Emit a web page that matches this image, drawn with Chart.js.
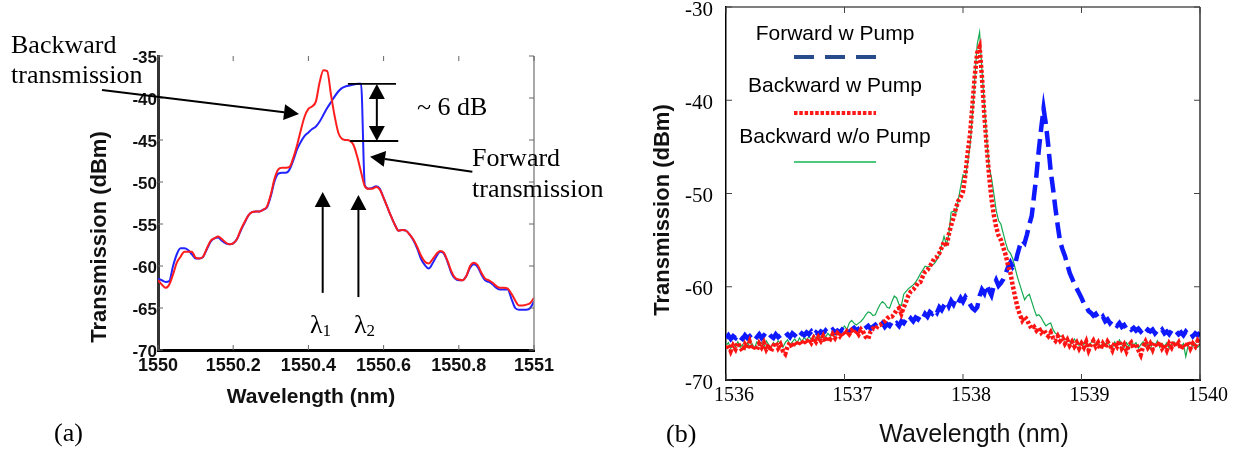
<!DOCTYPE html>
<html>
<head>
<meta charset="utf-8">
<script src="https://cdn.jsdelivr.net/npm/chart.js@4.4.1/dist/chart.umd.min.js"></script>
<style>
  html, body { margin: 0; padding: 0; background: #fff; }
  #wrap { position: relative; width: 1240px; height: 452px; overflow: hidden; }
  canvas { position: absolute; top: 0; }
  #chartA { left: 0; }
  #chartB { left: 620px; }
</style>
</head>
<body>
<div id="wrap">
  <canvas id="chartA" width="620" height="452"></canvas>
  <canvas id="chartB" width="620" height="452"></canvas>
</div>
<script>
// ---------- panel (a): 1550 - 1551 nm, sampled every 0.01 nm ----------
const aStart = 1550, aStep = 0.01;
const aBackward = [
  -61.7,-62.2,-62.6,-62.2,-61.0,-59.6,-58.9,-58.3,-58.3,-58.3,
  -59.0,-59.1,-58.9,-57.9,-57.0,-56.7,-56.5,-56.8,-57.2,-57.4,
  -57.3,-56.8,-55.7,-54.8,-54.0,-53.6,-53.5,-53.5,-53.3,-52.9,
  -51.5,-49.6,-48.5,-48.3,-48.3,-48.2,-47.1,-45.6,-43.8,-42.2,
  -41.3,-41.0,-40.4,-38.1,-36.7,-36.8,-39.6,-42.2,-44.2,-44.9,
  -45.0,-45.1,-45.6,-47.0,-48.8,-50.5,-50.8,-50.8,-50.6,-50.9,
  -51.9,-53.0,-54.1,-55.1,-55.8,-55.7,-55.8,-56.3,-56.9,-57.8,
  -58.8,-59.5,-59.7,-59.2,-58.6,-58.2,-58.4,-59.4,-60.6,-61.4,
  -61.6,-61.7,-61.2,-60.0,-59.6,-59.9,-60.8,-61.5,-61.7,-62.0,
  -62.4,-62.6,-62.6,-62.7,-63.3,-64.1,-64.7,-64.7,-64.6,-64.4,
  -63.8
];
const aForward = [
  -61.5,-61.7,-61.9,-61.8,-60.0,-58.6,-57.9,-57.9,-58.1,-58.6,
  -59.1,-59.1,-58.9,-58.0,-57.1,-56.7,-56.6,-57.0,-57.3,-57.4,
  -57.3,-56.8,-55.8,-54.9,-54.0,-53.6,-53.5,-53.5,-53.3,-53.0,
  -51.7,-49.9,-49.0,-48.9,-48.9,-48.5,-47.4,-46.1,-45.2,-44.5,
  -44.1,-43.7,-43.4,-42.8,-42.0,-41.2,-40.5,-39.8,-39.2,-38.8,
  -38.6,-38.5,-38.4,-38.3,-38.3,-50.4,-50.8,-50.7,-50.5,-50.8,
  -51.9,-53.0,-54.1,-55.1,-55.8,-55.7,-55.8,-56.3,-57.0,-58.0,
  -59.2,-59.9,-60.3,-59.7,-58.9,-58.3,-58.5,-59.5,-60.8,-61.5,
  -61.7,-61.7,-61.2,-60.2,-59.8,-60.1,-61.0,-61.7,-61.9,-62.2,
  -62.6,-62.8,-62.8,-62.8,-63.9,-65.0,-65.2,-65.2,-65.2,-65.0,
  -64.2
];
const aXLabels = ['1550', '1550.2', '1550.4', '1550.6', '1550.8', '1551'];
const aYLabels = ['-70', '-65', '-60', '-55', '-50', '-45', '-40', '-35'];

// ---------- panel (b): 1536 - 1540 nm, sampled every 0.02 nm ----------
const bStart = 1536, bStep = 0.02;
const bForwardPump = [
  -65.5,-65.2,-65.6,-65.3,-65.5,-65.1,-65.4,-65.6,-65.2,-65.5,
  -65.3,-65.6,-65.2,-65.4,-65.1,-65.5,-65.2,-65.4,-65.0,-65.3,
  -65.5,-65.1,-65.4,-65.2,-65.0,-65.3,-65.1,-65.4,-65.0,-65.2,
  -64.9,-65.3,-65.0,-65.2,-64.9,-65.1,-64.8,-65.2,-64.9,-65.1,
  -64.8,-65.0,-64.7,-65.0,-64.8,-64.6,-64.9,-64.7,-64.9,-64.6,
  -64.8,-64.5,-64.8,-64.6,-64.4,-64.7,-64.5,-64.3,-64.6,-64.4,
  -64.2,-64.5,-64.3,-64.1,-64.4,-64.2,-63.9,-64.3,-64.0,-64.2,
  -63.8,-64.1,-63.9,-64.2,-63.7,-63.9,-63.5,-63.8,-63.4,-63.7,
  -63.3,-63.5,-63.1,-63.4,-62.9,-63.2,-62.7,-62.9,-62.5,-62.8,
  -62.2,-62.5,-62.0,-61.6,-62.1,-61.5,-61.9,-61.3,-61.7,-61.2,
  -61.6,-61.1,-61.5,-61.9,-62.3,-62.5,-62.2,-61.0,-60.3,-60.7,
  -59.8,-60.4,-60.9,-59.9,-59.3,-59.9,-59.6,-59.2,-58.6,-57.9,
  -57.4,-57.9,-57.6,-56.5,-55.6,-55.0,-55.3,-54.4,-53.3,-52.4,
  -50.2,-48.0,-45.3,-43.0,-40.9,-42.6,-44.9,-47.6,-49.5,-51.6,
  -53.5,-55.2,-56.0,-56.7,-57.6,-58.5,-59.1,-59.7,-60.2,-60.7,
  -61.2,-61.8,-62.1,-62.6,-62.8,-63.1,-62.9,-63.3,-63.5,-63.2,
  -63.7,-63.5,-63.9,-63.6,-64.0,-64.2,-63.9,-64.3,-64.1,-64.5,
  -64.3,-64.6,-64.4,-64.7,-64.5,-64.8,-64.5,-64.9,-64.6,-64.8,
  -64.6,-65.0,-64.7,-64.9,-64.6,-65.0,-64.8,-65.1,-64.7,-65.0,
  -64.8,-65.1,-64.9,-65.2,-64.8,-65.1,-64.9,-65.3,-65.0,-65.2,
  -64.9
];
const bBackwardPump = [
  -66.6,-66.2,-66.9,-66.3,-66.7,-66.0,-66.5,-66.9,-66.2,-66.6,
  -65.9,-66.7,-66.3,-66.8,-66.1,-66.5,-66.0,-66.7,-66.2,-66.9,
  -66.3,-66.0,-66.6,-66.2,-66.9,-67.2,-66.4,-66.0,-66.5,-65.9,
  -66.3,-65.8,-66.2,-65.7,-66.1,-65.6,-66.0,-65.5,-65.9,-65.4,
  -65.8,-65.3,-65.9,-65.4,-65.6,-65.1,-65.5,-65.0,-65.3,-64.9,
  -65.2,-64.8,-65.1,-64.7,-65.0,-64.7,-65.1,-64.6,-64.9,-65.4,
  -65.6,-64.8,-64.5,-64.6,-64.2,-64.1,-63.9,-63.7,-63.4,-63.2,
  -63.2,-62.9,-62.5,-62.3,-62.9,-62.2,-61.6,-60.9,-60.5,-60.3,
  -60.0,-59.6,-59.5,-58.9,-58.4,-58.2,-57.8,-57.4,-56.9,-56.8,
  -56.4,-55.8,-55.2,-55.7,-54.4,-53.4,-52.6,-51.6,-50.8,-50.4,
  -49.8,-48.0,-45.6,-43.6,-40.5,-37.3,-34.9,-34.3,-37.5,-41.5,
  -45.0,-48.0,-50.5,-52.3,-53.6,-54.5,-55.0,-55.8,-56.6,-57.7,
  -58.5,-59.9,-61.1,-62.2,-63.0,-63.6,-63.2,-63.5,-64.1,-64.5,
  -64.3,-64.7,-64.4,-64.9,-64.6,-65.0,-65.3,-64.9,-65.5,-65.8,
  -65.3,-65.8,-65.5,-66.1,-65.7,-66.3,-65.9,-66.4,-66.0,-66.6,
  -66.1,-66.5,-65.9,-66.8,-66.2,-65.8,-66.4,-66.0,-66.7,-66.1,
  -66.5,-65.9,-66.3,-66.8,-66.0,-66.4,-65.8,-66.6,-66.2,-66.9,
  -66.3,-66.0,-66.6,-66.1,-66.8,-67.3,-66.4,-65.9,-66.5,-66.1,
  -66.7,-66.0,-66.4,-65.9,-66.6,-66.2,-66.8,-66.1,-66.5,-65.9,
  -66.4,-66.0,-66.7,-66.2,-66.5,-65.9,-66.6,-66.1,-66.4,-65.8,
  -66.2
];
const bBackwardNoPump = [
  -66.3,-66.0,-66.6,-66.1,-66.4,-65.9,-66.5,-66.2,-66.7,-66.0,
  -66.4,-66.1,-66.6,-65.9,-66.3,-66.0,-66.5,-65.8,-66.2,-66.6,
  -66.0,-66.3,-65.8,-66.1,-66.5,-66.0,-65.7,-66.2,-65.9,-65.6,
  -66.0,-65.5,-65.9,-65.4,-65.8,-65.3,-65.7,-65.2,-65.6,-65.3,
  -65.5,-65.1,-65.4,-65.0,-65.3,-64.9,-65.2,-64.8,-65.0,-64.5,
  -64.2,-64.6,-63.9,-63.6,-63.9,-64.1,-63.9,-63.7,-63.4,-63.0,
  -62.7,-62.8,-63.1,-63.0,-62.4,-61.9,-61.6,-61.8,-62.2,-62.3,
  -61.6,-61.0,-61.2,-61.9,-62.0,-60.8,-60.5,-60.2,-60.0,-59.8,
  -59.5,-59.1,-58.6,-58.2,-57.8,-57.9,-57.8,-57.7,-57.5,-57.1,
  -56.6,-55.6,-54.6,-55.5,-54.4,-52.0,-51.9,-52.1,-50.7,-49.3,
  -48.0,-48.2,-46.6,-44.8,-41.3,-37.6,-34.0,-32.7,-36.8,-40.6,
  -44.3,-47.2,-48.3,-50.0,-51.8,-52.9,-53.3,-54.3,-55.3,-56.1,
  -56.4,-57.0,-58.0,-59.0,-59.8,-60.6,-61.4,-61.0,-60.8,-61.6,
  -62.4,-63.1,-63.0,-63.3,-63.8,-64.2,-64.0,-63.9,-64.6,-65.0,
  -65.1,-65.3,-65.3,-65.7,-65.5,-65.9,-66.1,-65.6,-66.0,-66.3,
  -65.8,-66.2,-65.7,-66.4,-66.0,-65.6,-66.3,-65.9,-66.5,-66.0,
  -66.2,-65.8,-66.4,-66.6,-65.9,-66.3,-65.7,-66.2,-66.5,-66.0,
  -66.4,-65.8,-66.3,-66.0,-66.6,-66.2,-65.9,-66.4,-66.1,-66.7,
  -66.0,-66.3,-65.8,-66.5,-66.1,-66.4,-66.0,-66.6,-66.2,-65.9,
  -66.3,-66.0,-66.5,-66.1,-67.5,-66.3,-66.0,-66.4,-66.1,-66.5,
  -66.2
];
const bXLabels = ['1536', '1537', '1538', '1539', '1540'];
const bYLabels = ['-70', '-60', '-50', '-40', '-30'];

// annotation anchors of panel (a), in data units (nm, dBm)
const aNotes = {
  backArrow: [1549.851, -39.05, 1550.375, -41.9],
  fwdArrow: [1550.836, -48.77, 1550.564, -46.99],
  lambda1: [1550.438, -63.2, -51.2],
  lambda2: [1550.533, -63.7, -51.55],
  dbTop: [1550.505, 1550.633, -38.33],
  dbBottom: [1550.511, 1550.639, -45.12],
  dbArrowX: 1550.582
};

const SANS = '"Liberation Sans", Arial, sans-serif';
const SERIF = '"Liberation Serif", "Times New Roman", serif';

function toPoints(start, step, values) {
  return values.map((v, i) => ({ x: start + i * step, y: v }));
}

function seg(ctx, x1, y1, x2, y2) {
  ctx.beginPath();
  ctx.moveTo(x1, y1);
  ctx.lineTo(x2, y2);
  ctx.stroke();
}

// line with a filled head at (x2, y2)
function arrow(ctx, x1, y1, x2, y2, head, half, headOnly) {
  const ang = Math.atan2(y2 - y1, x2 - x1);
  const bx = x2 - head * Math.cos(ang), by = y2 - head * Math.sin(ang);
  if (!headOnly) seg(ctx, x1, y1, bx, by);
  ctx.beginPath();
  ctx.moveTo(x2, y2);
  ctx.lineTo(bx + half * Math.sin(ang), by - half * Math.cos(ang));
  ctx.lineTo(bx - half * Math.sin(ang), by + half * Math.cos(ang));
  ctx.closePath();
  ctx.fill();
}

function vText(ctx, text, cx, cy, font) {
  ctx.save();
  ctx.translate(cx, cy);
  ctx.rotate(-Math.PI / 2);
  ctx.font = font;
  ctx.textAlign = 'center';
  ctx.textBaseline = 'middle';
  ctx.fillText(text, 0, 0);
  ctx.restore();
}

function lambda(ctx, sub, left, base) {
  ctx.font = '26px ' + SERIF;
  ctx.textAlign = 'left';
  ctx.fillText('\u03bb', left, base);
  const w = ctx.measureText('\u03bb').width;
  ctx.font = '17px ' + SERIF;
  ctx.fillText(sub, left + w, base + 3);
}

const panelA = {
  id: 'panelA',
  afterDraw(chart) {
    const { ctx, chartArea: ca, scales: { x, y } } = chart;
    ctx.save();
    // right border, no top border
    ctx.strokeStyle = '#8c8c8c';
    ctx.lineWidth = 1.5;
    seg(ctx, ca.right, ca.top, ca.right, ca.bottom);
    // small inward ticks
    ctx.strokeStyle = '#666';
    ctx.lineWidth = 1;
    x.ticks.forEach(t => {
      const px = x.getPixelForValue(t.value);
      seg(ctx, px, ca.top, px, ca.top + 5);
      seg(ctx, px, ca.bottom, px, ca.bottom - 5);
    });
    y.ticks.forEach(t => {
      const py = y.getPixelForValue(t.value);
      seg(ctx, ca.left, py, ca.left + 5, py);
      seg(ctx, ca.right, py, ca.right - 5, py);
    });

    // arrows
    ctx.strokeStyle = '#000';
    ctx.fillStyle = '#000';
    ctx.lineWidth = 2;
    const P = (lx, ly) => [x.getPixelForValue(lx), y.getPixelForValue(ly)];
    let a = aNotes.backArrow, p1 = P(a[0], a[1]), p2 = P(a[2], a[3]);
    arrow(ctx, p1[0], p1[1], p2[0], p2[1], 15, 8);
    a = aNotes.fwdArrow; p1 = P(a[0], a[1]); p2 = P(a[2], a[3]);
    arrow(ctx, p1[0], p1[1], p2[0], p2[1], 15, 8);
    [aNotes.lambda1, aNotes.lambda2].forEach(l => {
      const q1 = P(l[0], l[1]), q2 = P(l[0], l[2]);
      arrow(ctx, q1[0], q1[1], q2[0], q2[1], 15, 8);
    });
    // ~6 dB bracket
    ctx.lineWidth = 1.8;
    const t1 = P(aNotes.dbTop[0], aNotes.dbTop[2]), t2 = P(aNotes.dbTop[1], aNotes.dbTop[2]);
    seg(ctx, t1[0], t1[1], t2[0], t2[1]);
    const b1 = P(aNotes.dbBottom[0], aNotes.dbBottom[2]), b2 = P(aNotes.dbBottom[1], aNotes.dbBottom[2]);
    seg(ctx, b1[0], b1[1], b2[0], b2[1]);
    const dx = x.getPixelForValue(aNotes.dbArrowX);
    ctx.lineWidth = 2;
    seg(ctx, dx, t1[1] + 10, dx, b1[1] - 10);
    arrow(ctx, dx, b1[1], dx, t1[1], 15, 8, true);
    arrow(ctx, dx, t1[1], dx, b1[1], 15, 8, true);

    // annotation text
    ctx.fillStyle = '#000';
    ctx.textBaseline = 'alphabetic';
    ctx.textAlign = 'left';
    ctx.font = '26px ' + SERIF;
    ctx.fillText('Backward', 11, 53);
    ctx.fillText('transmission', 11, 83);
    ctx.fillText('Forward', 472, 166);
    ctx.fillText('transmission', 472, 197);
    ctx.fillText('~ 6 dB', 417, 115);
    ctx.fillText('(a)', 54, 441);
    lambda(ctx, '1', 310, 333);
    lambda(ctx, '2', 354, 333);

    // axis titles
    ctx.fillStyle = '#111';
    vText(ctx, 'Transmission (dBm)', 100, 237, 'bold 22px ' + SANS);
    ctx.font = 'bold 21px ' + SANS;
    ctx.textAlign = 'center';
    ctx.fillText('Wavelength (nm)', 311, 403);
    ctx.restore();
  }
};

const panelB = {
  id: 'panelB',
  afterDraw(chart) {
    const { ctx, chartArea: ca, scales: { x, y } } = chart;
    const ds = chart.data.datasets;
    ctx.save();
    ctx.strokeStyle = '#000';
    ctx.lineWidth = 1.2;
    seg(ctx, ca.left, ca.top, ca.right, ca.top);
    seg(ctx, ca.right, ca.top, ca.right, ca.bottom);
    ctx.strokeStyle = '#444';
    ctx.lineWidth = 1;
    x.ticks.forEach(t => {
      const px = x.getPixelForValue(t.value);
      seg(ctx, px, ca.top, px, ca.top + 6);
      seg(ctx, px, ca.bottom, px, ca.bottom - 6);
    });
    y.ticks.forEach(t => {
      const py = y.getPixelForValue(t.value);
      seg(ctx, ca.left, py, ca.left + 6, py);
      seg(ctx, ca.right, py, ca.right - 6, py);
    });

    // legend, drawn inside the plot like the original
    ctx.fillStyle = '#000';
    ctx.font = '21px ' + SANS;
    ctx.textAlign = 'center';
    ctx.textBaseline = 'alphabetic';
    const rows = [
      { d: ds[0], base: 40, ly: 57, color: 'rgb(40,75,140)', width: 4, dash: [20, 11] },
      { d: ds[1], base: 92, ly: 113, color: 'rgb(255,25,25)', width: 4, dash: [3.5, 1.8] },
      { d: ds[2], base: 143, ly: 162, color: 'rgb(20,180,80)', width: 1.3, dash: [] }
    ];
    rows.forEach(r => {
      ctx.fillText(r.d.label, 215, r.base);
      ctx.strokeStyle = r.color;
      ctx.lineWidth = r.width;
      ctx.setLineDash(r.dash);
      seg(ctx, 174, r.ly, 256, r.ly);
      ctx.setLineDash([]);
    });

    ctx.fillStyle = '#111';
    vText(ctx, 'Transmission (dBm)', 43, 210, 'bold 22px ' + SANS);
    ctx.font = '25px ' + SANS;
    ctx.textAlign = 'center';
    ctx.fillText('Wavelength (nm)', 354, 442);
    ctx.font = '26px ' + SERIF;
    ctx.textAlign = 'left';
    ctx.fillStyle = '#000';
    ctx.fillText('(b)', 46, 442);
    ctx.restore();
  }
};

new Chart(document.getElementById('chartA'), {
  type: 'line',
  data: {
    datasets: [
      {
        label: 'Backward transmission',
        data: toPoints(aStart, aStep, aBackward),
        borderColor: 'rgb(255,30,30)',
        borderWidth: 2,
        pointRadius: 0,
        cubicInterpolationMode: 'monotone'
      },
      {
        label: 'Forward transmission',
        data: toPoints(aStart, aStep, aForward),
        borderColor: 'rgb(35,35,255)',
        borderWidth: 2,
        pointRadius: 0,
        cubicInterpolationMode: 'monotone'
      }
    ]
  },
  options: {
    responsive: false,
    animation: false,
    devicePixelRatio: 1,
    layout: { autoPadding: false, padding: { left: 0, right: 86, top: 56, bottom: 62 } },
    plugins: { legend: { display: false }, tooltip: { enabled: false } },
    scales: {
      x: {
        type: 'linear', min: 1550, max: 1551,
        grid: { display: false, drawTicks: false },
        border: { display: true, color: '#000', width: 3 },
        ticks: {
          stepSize: 0.2, padding: 5, color: '#111', maxRotation: 0,
          font: { family: SANS, size: 18, weight: 'bold' },
          callback: (v, i) => aXLabels[i]
        },
        afterFit: s => { s.height = 40; s.paddingLeft = 0; s.paddingRight = 0; }
      },
      y: {
        min: -70, max: -35,
        grid: { display: false, drawTicks: false },
        border: { display: true, color: '#333', width: 3 },
        ticks: {
          stepSize: 5, padding: 1, labelOffset: 2, color: '#111',
          font: { family: SANS, size: 17, weight: 'bold' },
          callback: (v, i) => aYLabels[i]
        },
        afterFit: s => { s.width = 158; s.paddingTop = 0; s.paddingBottom = 0; }
      }
    }
  },
  plugins: [panelA]
});

new Chart(document.getElementById('chartB'), {
  type: 'line',
  data: {
    datasets: [
      {
        label: 'Forward w Pump',
        data: toPoints(bStart, bStep, bForwardPump),
        borderColor: 'rgb(15,25,255)',
        borderWidth: 4.5,
        borderDash: [16, 7],
        pointRadius: 0,
        tension: 0,
        order: 1
      },
      {
        label: 'Backward w Pump',
        data: toPoints(bStart, bStep, bBackwardPump),
        borderColor: 'rgb(255,20,20)',
        borderWidth: 4.5,
        borderDash: [3, 2],
        pointRadius: 0,
        tension: 0,
        order: 0
      },
      {
        label: 'Backward w/o Pump',
        data: toPoints(bStart, bStep, bBackwardNoPump),
        borderColor: 'rgb(20,170,80)',
        borderWidth: 1.2,
        pointRadius: 0,
        tension: 0,
        order: 2
      }
    ]
  },
  options: {
    responsive: false,
    animation: false,
    devicePixelRatio: 1,
    layout: { autoPadding: false, padding: { left: 0, right: 40, top: 7, bottom: 32 } },
    plugins: { legend: { display: false }, tooltip: { enabled: false } },
    scales: {
      x: {
        type: 'linear', min: 1536, max: 1540,
        grid: { display: false, drawTicks: false },
        border: { display: true, color: '#000', width: 2 },
        ticks: {
          stepSize: 1, padding: 4, labelOffset: 8, color: '#000', maxRotation: 0,
          font: { family: SERIF, size: 20 },
          callback: (v, i) => bXLabels[i]
        },
        afterFit: s => { s.height = 40; s.paddingLeft = 0; s.paddingRight = 0; }
      },
      y: {
        min: -70, max: -30,
        grid: { display: false, drawTicks: false },
        border: { display: true, color: '#000', width: 1.5 },
        ticks: {
          stepSize: 10, padding: 13, labelOffset: 3, color: '#000',
          font: { family: SERIF, size: 21 },
          callback: (v, i) => bYLabels[i]
        },
        afterFit: s => { s.width = 106; s.paddingTop = 0; s.paddingBottom = 0; }
      }
    }
  },
  plugins: [panelB]
});
</script>
</body>
</html>
